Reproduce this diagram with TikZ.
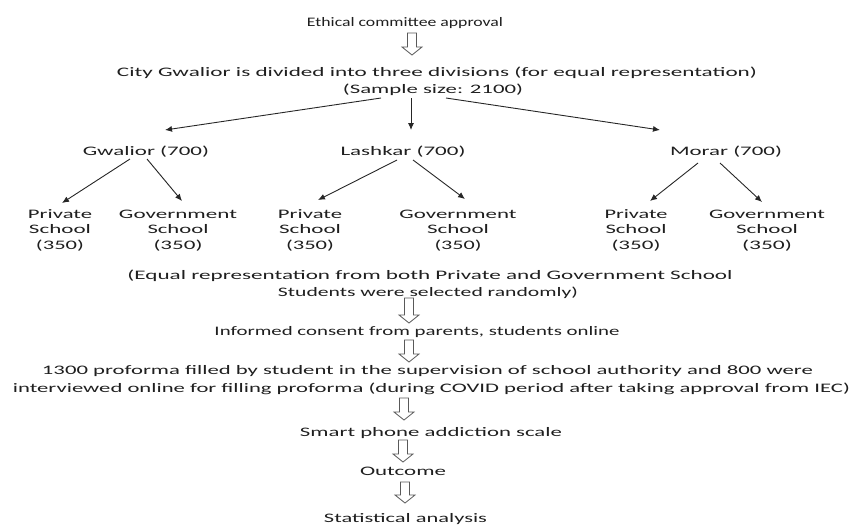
\documentclass[tikz,border=0pt]{standalone}
\usepackage{fontspec}
\setmainfont{Carlito}
\usetikzlibrary{arrows.meta,calc}
\newcommand\sw[2]{\resizebox{#1pt}{\height}{#2}}
\begin{document}
\begin{tikzpicture}[x=1pt,y=-1pt,
  txt/.style={inner sep=0pt, font=\fontsize{13}{15.5}\selectfont, anchor=base, text=black!88, align=center},
  arr/.style={-{Latex[length=7pt,width=6pt]}, line width=0.9pt, black!85},
  harrow/.pic={\draw[line width=0.8pt, black!65] (-4.5,0) -- (-4.5,#1-8) -- (-10,#1-8) -- (0,#1) -- (10,#1-8) -- (4.5,#1-8) -- (4.5,0) -- cycle;}]
\useasboundingbox (0,0) rectangle (853,525);

\node[txt] (t1) at (405,26) {\sw{196}{Ethical committee approval}};
\pic at (412,33) {harrow=22};
\node[txt] (t2) at (437,76) {\sw{640}{City Gwalior is divided into three divisions (for equal representation)}};
\node[txt] (t3) at (433,93) {\sw{180}{(Sample size: 2100)}};

\node[txt] (g) at (146,155) {\sw{126}{Gwalior (700)}};
\node[txt] (l) at (403,155) {\sw{125}{Lashkar (700)}};
\node[txt] (m) at (726,155) {\sw{112}{Morar (700)}};

\draw[arr] ([shift={(-52,5)}]t3.base) -- ([shift={(19,-25)}]g.base);
\draw[arr] ([shift={(-22,5)}]t3.base) -- ([shift={(8,-25)}]l.base);
\draw[arr] ([shift={(13,5)}]t3.base) -- ([shift={(-66,-25)}]m.base);

% multi-line nodes: base anchor = baseline of last line
\node[txt] (gp) at (60,249) {\sw{64}{Private}\\\sw{62}{School}\\\sw{48}{(350)}};
\node[txt] (gg) at (178,249) {\sw{118}{Government}\\\sw{61}{School}\\\sw{49}{(350)}};
\node[txt] (lp) at (310,249) {\sw{64}{Private}\\\sw{62}{School}\\\sw{48}{(350)}};
\node[txt] (lg) at (458,249) {\sw{117}{Government}\\\sw{62}{School}\\\sw{47}{(350)}};
\node[txt] (mp) at (636,249) {\sw{63}{Private}\\\sw{61}{School}\\\sw{49}{(350)}};
\node[txt] (mg) at (767,249) {\sw{116}{Government}\\\sw{62}{School}\\\sw{50}{(350)}};

\draw[arr] ([shift={(-16,4)}]g.base) -- ([shift={(2,-46)}]gp.base);
\draw[arr] ([shift={(1,4)}]g.base) -- ([shift={(4,-48)}]gg.base);
\draw[arr] ([shift={(-6,5)}]l.base) -- ([shift={(8,-49)}]lp.base);
\draw[arr] ([shift={(10,5)}]l.base) -- ([shift={(7,-50)}]lg.base);
\draw[arr] ([shift={(-28,8)}]m.base) -- ([shift={(14,-48)}]mp.base);
\draw[arr] ([shift={(-6,8)}]m.base) -- ([shift={(-5,-47)}]mg.base);

\node[txt] (e1) at (430,279) {\sw{605}{(Equal representation from both Private and Government School}};
\node[txt] (e2) at (428,296) {\sw{300}{Students were selected randomly)}};
\pic at (409,298) {harrow=25};
\node[txt] (inf) at (417,335) {\sw{405}{Informed consent from parents, students online}};
\pic at (409,340) {harrow=22};
\node[txt] (p1) at (427.5,374) {\sw{771}{1300 proforma filled by student in the supervision of school authority and 800 were}};
\node[txt] (p2) at (431.5,392) {\sw{837}{interviewed online for filling proforma (during COVID period after taking approval from IEC)}};
\pic at (404,398) {harrow=22};
\node[txt] (s) at (431,436) {\sw{262}{Smart phone addiction scale}};
\pic at (403,440) {harrow=22};
\node[txt] (o) at (403,475) {\sw{86}{Outcome}};
\pic at (405,482) {harrow=21};
\node[txt] (st) at (405.5,522) {\sw{163}{Statistical analysis}};
\end{tikzpicture}
\end{document}
